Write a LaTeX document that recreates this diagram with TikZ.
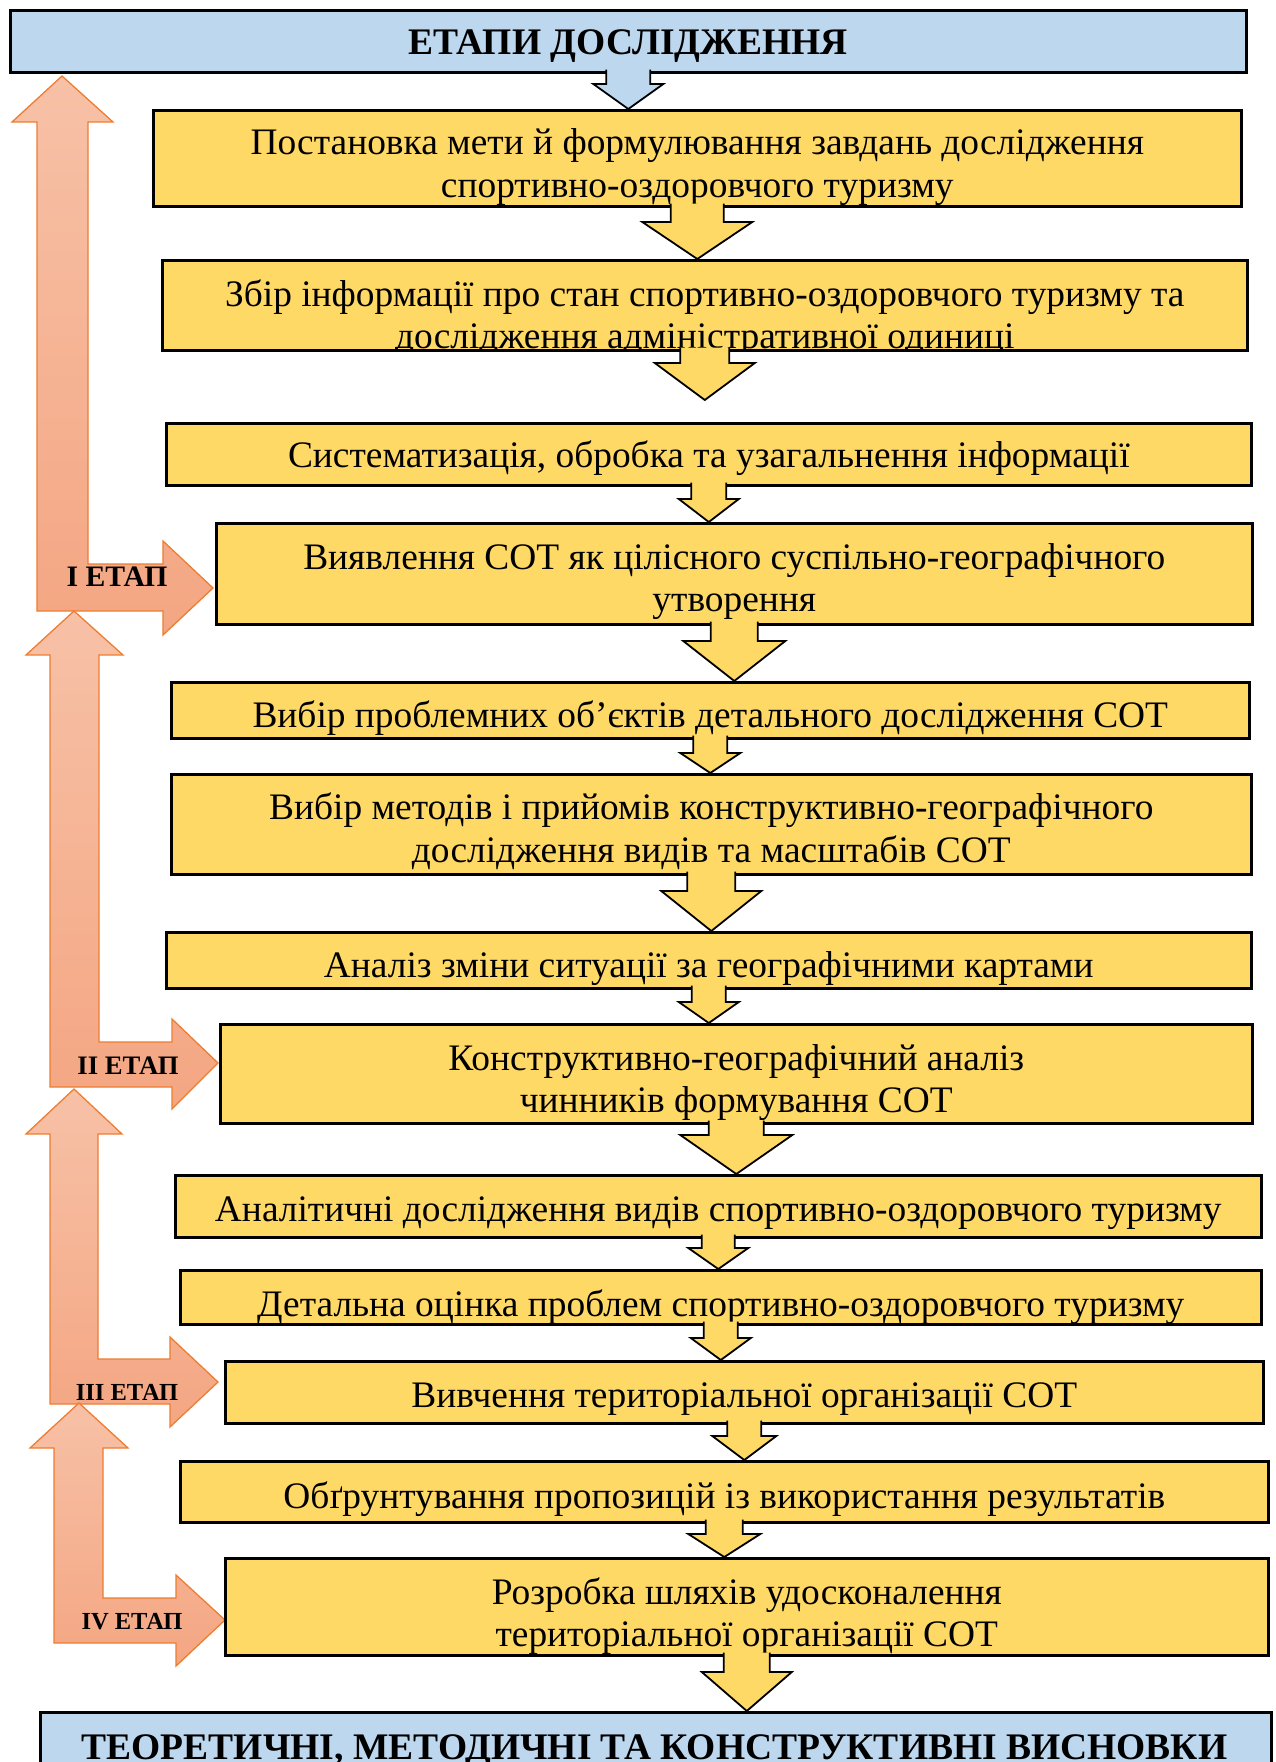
\documentclass[tikz,border=0pt]{standalone}
\usepackage{fontspec}
\setmainfont{Liberation Serif}
\usetikzlibrary{calc,shadows}
\definecolor{cY}{HTML}{FFD966}
\definecolor{cBl}{HTML}{BDD7EE}
\definecolor{cO}{HTML}{ED7D31}
\definecolor{cOt}{HTML}{F7C1A7}
\definecolor{cOb}{HTML}{F4A682}
\tikzset{ybox/.style={
  draw=black,
  line width=2.6pt,
  fill=cY,
  inner sep=0pt,
  anchor=north west,
  drop shadow={shadow xshift=1.5pt, shadow yshift=-1.5pt, fill=black!40, opacity=0.6},
  }
}
\tikzset{bbox/.style={
  ybox,
  fill=cBl,
  }
}
\tikzset{btext/.style={
  align=center,
  inner sep=0pt,
  font=\fontsize{37.4pt}{42.5pt}\selectfont,
  }
}
\tikzset{htext/.style={
  btext,
  font=\fontsize{37.5pt}{40pt}\selectfont\bfseries,
  }
}
\tikzset{yarrow/.style={
  draw=black,
  line width=1.8pt,
  fill=cY,
  line join=miter,
  }
}
\tikzset{barrow/.style={
  yarrow,
  fill=cBl,
  }
}
\tikzset{stagearrow/.style={
  top color=cOt,
  bottom color=cOb,
  draw=cO,
  line width=1.3pt,
  }
}
\tikzset{stagelabel/.style={
  inner sep=0pt,
  font=\fontsize{#1}{30pt}\selectfont\bfseries,
  }
}
% block arrow down from the south of #2 to the level of #3
\newcommand{\flowarrow}[6][yarrow]{%
  \coordinate (fatop) at ([yshift=4pt]#2.south);
  \coordinate (fatip) at (#2.south |- #3);
  \filldraw[#1] ($(fatop)+(-#4,0)$) -- ($(fatip)+(-#4,-#6)$) -- ($(fatip)+(-#5,-#6)$)
    -- (fatip) -- ($(fatip)+(#5,-#6)$) -- ($(fatip)+(#4,-#6)$) -- ($(fatop)+(#4,0)$);
}

\begin{document}
\begin{tikzpicture}[x=1pt,y=-1pt]
  \useasboundingbox (0,0) rectangle (1275,1762);

  % stage arrows
  \shadedraw[stagearrow] (62,76) -- (113,122) -- (88,122) -- (88,564) -- (163,564) -- (163,541) -- (213,588)
    -- (163,635) -- (163,611) -- (37,611) -- (37,122) -- (12,122) -- cycle;
  \shadedraw[stagearrow] (74,611) -- (123,655) -- (99,655) -- (99,1042) -- (172,1042) -- (172,1019) -- (218,1063)
    -- (172,1109) -- (172,1087) -- (50,1087) -- (50,655) -- (26,655) -- cycle;
  \shadedraw[stagearrow] (74,1089) -- (122,1134) -- (98,1134) -- (98,1359) -- (170,1359) -- (170,1337) -- (218,1382)
    -- (170,1427) -- (170,1404) -- (50,1404) -- (50,1134) -- (26,1134) -- cycle;
  \shadedraw[stagearrow] (79,1403) -- (128,1448) -- (103,1448) -- (103,1598) -- (176,1598) -- (176,1575) -- (225,1620)
    -- (176,1666) -- (176,1643) -- (54,1643) -- (54,1448) -- (30,1448) -- cycle;
  \node[stagelabel=29.7pt] (s1) at (117,577) {I ЕТАП};
  \node[stagelabel=26.7pt] (s2) at (128,1066) {II ЕТАП};
  \node[stagelabel=24.5pt] (s3) at (127,1392) {III ЕТАП};
  \node[stagelabel=24.5pt] (s4) at (132,1622) {IV ЕТАП};

  % boxes
  \node[bbox, minimum width=1236pt, minimum height=62pt] (hdr) at (9,9) {};
  \node[ybox, minimum width=1088pt, minimum height=96pt] (b1) at (152,109) {};
  \node[ybox, minimum width=1085pt, minimum height=90pt] (b2) at (161,259) {};
  \node[ybox, minimum width=1085pt, minimum height=62pt] (b3) at (165,422) {};
  \node[ybox, minimum width=1036pt, minimum height=101pt] (b4) at (215,522) {};
  \node[ybox, minimum width=1078pt, minimum height=56pt] (b5) at (170,681) {};
  \node[ybox, minimum width=1080pt, minimum height=100pt] (b6) at (170,773) {};
  \node[ybox, minimum width=1085pt, minimum height=56pt] (b7) at (165,931) {};
  \node[ybox, minimum width=1032pt, minimum height=99pt] (b8) at (219,1023) {};
  \node[ybox, minimum width=1086pt, minimum height=62pt] (b9) at (174,1174) {};
  \node[ybox, minimum width=1081pt, minimum height=54pt] (b10) at (179,1269) {};
  \node[ybox, minimum width=1038pt, minimum height=62pt] (b11) at (224,1360) {};
  \node[ybox, minimum width=1088pt, minimum height=61pt] (b12) at (179,1460) {};
  \node[ybox, minimum width=1043pt, minimum height=97pt] (b13) at (224,1557) {};
  \node[bbox, minimum width=1231pt, minimum height=89pt] (ftr) at (39,1711) {};

  % texts
  \node[htext] (thdr) at ([yshift=-5pt]hdr.center) {ЕТАПИ ДОСЛІДЖЕННЯ};
  \begin{scope}
    \clip (b1.south west) rectangle (b1.north east);
    \node[btext] (t1) at ([yshift=-9pt]b1.center) {Постановка мети й формулювання завдань дослідження\\спортивно-оздоровчого туризму};
  \end{scope}
  \begin{scope}
    \clip (b2.south west) rectangle (b2.north east);
    \node[btext] (t2) at ([yshift=-13pt]b2.center) {Збір інформації про стан спортивно-оздоровчого туризму та\\дослідження адміністративної одиниці};
  \end{scope}
  \node[btext] (t3) at ([yshift=-3.5pt]b3.center) {Систематизація, обробка та узагальнення інформації};
  \node[btext] (t4) at ([yshift=-8pt]b4.center) {Виявлення СОТ як цілісного суспільно-географічного\\утворення};
  \node[btext] (t5) at ([yshift=-7.5pt]b5.center) {Вибір проблемних об’єктів детального дослідження СОТ};
  \node[btext] (t6) at ([yshift=-7pt]b6.center) {Вибір методів і прийомів конструктивно-географічного\\дослідження видів та масштабів СОТ};
  \node[btext] (t7) at ([yshift=-8.5pt]b7.center) {Аналіз зміни ситуації за географічними картами};
  \node[btext] (t8) at ([yshift=-8.5pt]b8.center) {Конструктивно-географічний аналіз\\чинників формування СОТ};
  \node[btext] (t9) at ([yshift=-7pt]b9.center) {Аналітичні дослідження видів спортивно-оздоровчого туризму};
  \node[btext] (t10) at ([yshift=-10pt]b10.center) {Детальна оцінка проблем спортивно-оздоровчого туризму};
  \node[btext] (t11) at ([yshift=-7pt]b11.center) {Вивчення територіальної організації СОТ};
  \node[btext] (t12) at ([yshift=-7pt]b12.center) {Обґрунтування пропозицій із використання результатів};
  \node[btext] (t13) at ([yshift=-9.5pt]b13.center) {Розробка шляхів удосконалення\\територіальної організації СОТ};
  \node[htext] (tftr) at (654.5,1751) {ТЕОРЕТИЧНІ, МЕТОДИЧНІ ТА КОНСТРУКТИВНІ ВИСНОВКИ};

  % arrows between the boxes
  \coordinate (b3gap) at ([yshift=22pt]b3.north);
  \flowarrow[barrow]{hdr}{b1.north}{22}{35}{25}
  \flowarrow{b1}{b2.north}{26.5}{55}{37}
  \flowarrow{b2}{b3gap}{24.5}{50}{37}
  \flowarrow{b3}{b4.north}{17.5}{30}{23}
  \flowarrow{b4}{b5.north}{23.5}{51}{40}
  \flowarrow{b5}{b6.north}{17}{30}{20}
  \flowarrow{b6}{b7.north}{24}{50}{40}
  \flowarrow{b7}{b8.north}{17}{30}{21}
  \flowarrow{b8}{b9.north}{27.5}{56}{39}
  \flowarrow{b9}{b10.north}{16.5}{30}{21}
  \flowarrow{b10}{b11.north}{17}{30}{22}
  \flowarrow{b11}{b12.north}{17}{32}{24}
  \flowarrow{b12}{b13.north}{18.5}{36}{23}
  \flowarrow{b13}{ftr.north}{23}{45}{39}
\end{tikzpicture}
\end{document}
